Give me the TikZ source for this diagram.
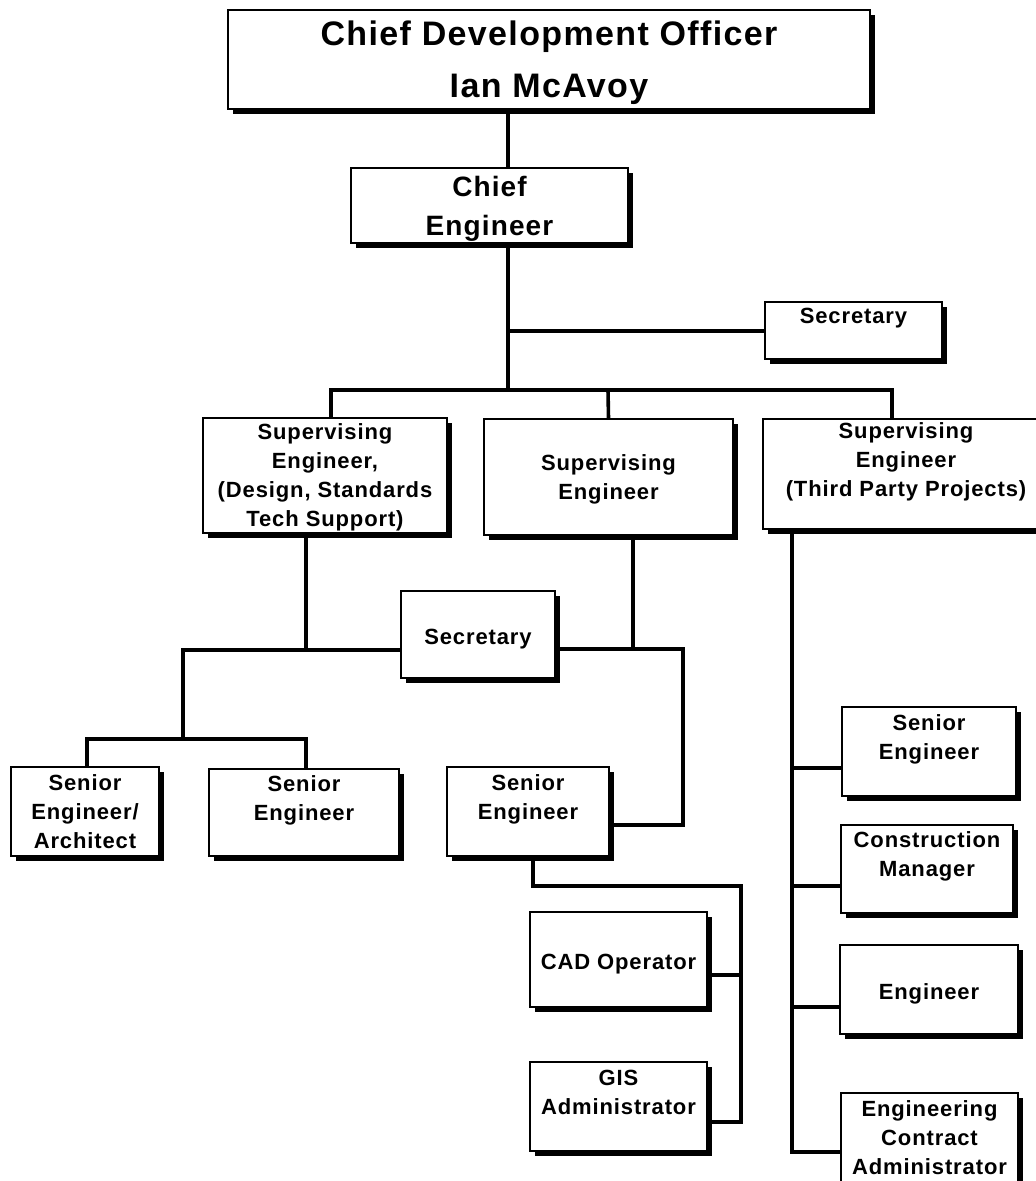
\documentclass[tikz,border=0pt]{standalone}
\usepackage{fontspec}
\setmainfont{Liberation Sans}[LetterSpace=4]
\usetikzlibrary{shadows,backgrounds}
\tikzset{
  box/.style={draw,fill=white,line width=1.3pt,align=center,inner sep=0pt,
    drop shadow={shadow xshift=5pt,shadow yshift=-5pt,fill=black,opacity=1},
    font=\bfseries\fontsize{22}{29}\selectfont,text depth=-3.3pt,
    execute at begin node=\strut,execute at end node=\strut},
  link/.style={line width=3.6pt}}
% box from its corners (x1,y1) to (x2,y2)
\newcommand{\orgnode}[7][]{%
  \node[box,minimum width={#5-#3},minimum height={#6-#4},#1] (#2) at ({(#3+#5)/2},{(#4+#6)/2}) {#7};}

\begin{document}
\begin{tikzpicture}[x=1pt,y=-1pt]
\useasboundingbox (0,0) rectangle (1036,1181);
\clip (0,0) rectangle (1036,1181);

% top
\orgnode[font=\bfseries\fontsize{34}{52}\selectfont,text depth=-12pt]{cdo}{228}{10}{870}{109}{Chief Development Officer\\Ian McAvoy}
\orgnode[font=\bfseries\fontsize{28}{39}\selectfont,text depth=-2.3pt]{ce}{351}{168}{628}{243}{Chief\\Engineer}
\orgnode{secA}{765}{302}{942}{359}{Secretary\\}

% supervising engineers
\orgnode[text depth=-7pt]{supL}{203}{418}{447}{533}{Supervising\\Engineer,\\(Design, Standards\\Tech Support)}
\orgnode{supM}{484}{419}{733}{535}{Supervising\\Engineer}
\orgnode[text depth=-7pt]{supR}{763}{419}{1049}{529}{Supervising\\Engineer\\(Third Party Projects)\\}
\orgnode{secB}{401}{591}{555}{678}{Secretary}

% staff
\orgnode{seA}{11}{767}{159}{856}{Senior\\Engineer/\\Architect}
\orgnode{seL}{209}{769}{399}{856}{Senior\\Engineer\\}
\orgnode{seM}{447}{767}{609}{856}{Senior\\Engineer\\}
\orgnode{cad}{530}{912}{707}{1007}{CAD Operator}
\orgnode{gis}{530}{1062}{707}{1151}{GIS\\Administrator\\}
\orgnode{seR}{842}{707}{1016}{796}{Senior\\Engineer\\}
\orgnode{cm}{841}{825}{1013}{913}{Construction\\Manager\\}
\orgnode{eng}{840}{945}{1018}{1034}{Engineer}
\orgnode{eca}{841}{1093}{1018}{1182}{Engineering\\Contract\\Administrator}

\begin{scope}[on background layer]
\coordinate (jSec) at (508,331);
\coordinate (busL) at (331,390);
\coordinate (busM) at (608,390);
\coordinate (busR) at (892,390);
\draw[link] (cdo.south -| jSec) -- (ce.north -| jSec);
\draw[link] (ce.south -| jSec) -- (jSec) -- (jSec |- busL);
\draw[link] (jSec) -- (secA.west |- jSec);
\draw[link] (busL |- supL.north) -- (busL) -- (busR) -- (busR |- supR.north);
\draw[link] (busM) -- (supM.north);

% left group
\coordinate (jL) at (306,650);
\coordinate (jLL) at (183,650);
\coordinate (dA) at (87,739);
\coordinate (dL) at (306,739);
\draw[link] (supL.south -| jL) -- (jL);
\draw[link] (secB.west |- jL) -- (jLL) -- (jLL |- dA);
\draw[link] (seA.north -| dA) -- (dA) -- (dL) -- (seL.north -| dL);

% middle group
\coordinate (jM) at (633,649);
\coordinate (jMR) at (683,649);
\coordinate (jMB) at (683,825);
\draw[link] (supM.south -| jM) -- (jM);
\draw[link] (secB.east |- jM) -- (jMR) -- (jMB) -- (seM.east |- jMB);
\coordinate (dM) at (533,886);
\coordinate (dMR) at (741,886);
\coordinate (dMB) at (741,1122);
\coordinate (tcad) at (741,975);
\draw[link] (seM.south -| dM) -- (dM) -- (dMR) -- (dMB) -- (gis.east |- dMB);
\draw[link] (cad.east |- tcad) -- (tcad);

% right group
\coordinate (teca) at (792,1152);
\draw[link] (supR.south -| teca) -- (teca) -- (eca.west |- teca);
\foreach \n/\y in {seR/768,cm/886,eng/1007}{
  \coordinate (t\n) at (792,\y);
  \draw[link] (t\n) -- (\n.west |- t\n);}
\end{scope}
\end{tikzpicture}
\end{document}
